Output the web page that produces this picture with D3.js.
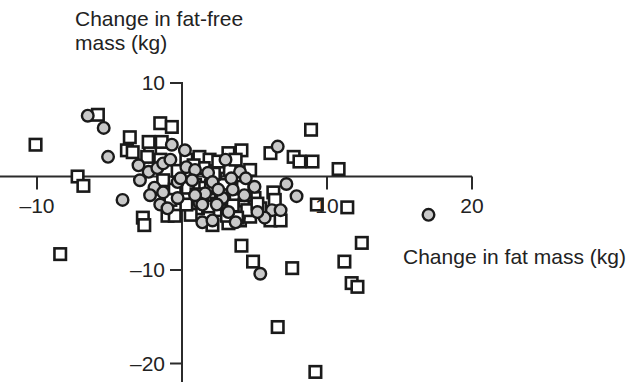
<!DOCTYPE html>
<html><head><meta charset="utf-8">
<script src="https://cdn.jsdelivr.net/npm/d3@7"></script>
<style>body{margin:0;background:#fff}svg{display:block}text{font-family:"Liberation Sans",Arial,sans-serif;fill:#222}</style>
</head><body>
<script>
// Squares: [change in fat mass, change in fat-free mass]
const squares = [
[-10.1,3.4],[-5.8,6.6],[-7.2,0.0],[-6.8,-1.0],[-8.4,-8.3],[-3.6,4.2],[-3.8,2.8],[-3.4,2.6],
[-2.2,2.8],[-2.3,3.7],[-1.5,5.7],[-0.7,5.3],[-1.4,3.7],[-2.4,2.1],[-1.5,1.8],[-2.7,-4.4],
[-2.6,-5.2],[-1.0,-4.2],[-0.5,-4.2],[-1.3,-0.4],[1.2,2.1],[3.2,2.5],[4.1,2.8],[2.8,1.0],
[6.1,2.5],[7.7,2.1],[8.1,1.6],[9.0,1.6],[8.9,5.0],[10.8,0.8],[9.3,-3.0],[11.4,-3.3],
[12.4,-7.1],[11.2,-9.1],[11.7,-11.4],[12.1,-11.8],[4.1,-7.4],[4.9,-9.1],[7.6,-9.8],[6.6,-16.1],
[9.2,-20.9],[6.3,-1.7],[6.4,-2.5],[6.1,-4.7],[6.8,-4.7],[4.0,-4.7],[4.7,-4.3],
[0.6,0.2],[0.9,-0.9],[1.6,-1.2],[2.3,-0.4],[3.0,-1.7],[3.7,-2.5],[4.3,-3.0],[3.9,-3.8],
[2.6,-3.6],[1.9,-2.5],[1.1,-3.4],[0.2,-2.3],[3.3,0.7],[4.0,-0.4],[4.6,-1.4],[5.0,-2.3],
[0.3,1.8],[1.9,1.8],[3.7,1.8],[-0.5,-1.4],[-0.8,-2.5],[4.7,0.7],[5.4,-3.4],[0.6,-4.1],
[3.2,-5.0],[2.1,-5.2],[1.5,0.9],[2.9,-0.9],[4.4,-2.0],[2.4,-2.9],[0.4,-1.2],
[1.0,-1.9],[1.8,-3.2],[2.7,-2.0],[3.5,-3.1],[4.5,-3.6],[2.0,-1.0],[0.3,-3.0],[1.4,-2.2],
[3.1,-4.2],[4.2,-1.1],[2.2,0.3],[0.8,1.2],[3.8,-4.4],[5.2,-2.9],[-0.3,0.6],[2.5,1.6]
];
// Circles: [change in fat mass, change in fat-free mass]
const circles = [
[-6.5,6.5],[-5.4,5.2],[-5.1,2.1],[-4.1,-2.5],[6.6,3.2],[17.0,-4.1],[5.4,-10.4],[7.2,-0.8],
[7.9,-2.1],[6.2,-3.6],[5.7,-4.4],[-0.7,3.4],[-3.0,1.2],[-2.3,0.5],[-1.7,0.9],[-1.3,1.4],
[-0.8,1.8],[-1.9,-1.2],[-1.3,-1.7],[-0.3,-0.6],[0.3,1.0],[0.9,0.7],[-0.3,-2.3],[-0.1,-0.2],
[1.2,-2.8],[1.4,-4.9],[2.1,-4.7],[1.8,0.4],[4.0,0.5],[3.4,-0.2],[2.1,-0.6],[3.5,-1.4],
[5.0,-1.1],[1.6,-1.8],[2.8,-2.3],[1.4,-3.0],[2.4,-3.0],[5.2,-3.8],[6.8,-3.6],[0.7,-0.4],
[-1.5,-3.0],[-2.2,-2.0],[-1.0,-3.4],[3.0,1.8],[4.3,-2.0],[0.2,2.8],[4.4,-0.2],[2.5,-1.4],
[3.2,-3.8],[0.9,-2.0],[-2.9,-0.4],[3.7,-4.9]
];
const xTicks = [-10, 10, 20];
const yTicks = [10, -10, -20];

const W = 640, H = 382;
const svg = d3.select("body").append("svg").attr("width", W).attr("height", H);
const x = d3.scaleLinear().domain([-10, 10]).range([37, 327]);
const y = d3.scaleLinear().domain([10, -10]).range([83, 270]);
const x0 = x(0), y0 = y(0);

// axes
const ax = svg.append("g");
ax.append("line").attr("x1", 0).attr("x2", x(20)).attr("y1", y0).attr("y2", y0)
  .attr("stroke", "#2b2b2b").attr("stroke-width", 2);
ax.append("line").attr("x1", x0).attr("x2", x0).attr("y1", y(10) - 1).attr("y2", H)
  .attr("stroke", "#2b2b2b").attr("stroke-width", 2);
xTicks.forEach(t => {
  ax.append("line").attr("x1", x(t)).attr("x2", x(t)).attr("y1", y0).attr("y2", y0 + 13)
    .attr("stroke", "#2b2b2b").attr("stroke-width", 2);
});
yTicks.forEach(t => {
  ax.append("line").attr("x1", x0 - 12).attr("x2", x0).attr("y1", y(t)).attr("y2", y(t))
    .attr("stroke", "#2b2b2b").attr("stroke-width", 2);
});

// points
const sz = 11.5;
svg.append("g").selectAll("rect").data(squares).join("rect")
  .attr("x", d => x(d[0]) - sz / 2).attr("y", d => y(d[1]) - sz / 2)
  .attr("width", sz).attr("height", sz)
  .attr("fill", "#fff").attr("stroke", "#1a1a1a").attr("stroke-width", 2.6);
svg.append("g").selectAll("circle").data(circles).join("circle")
  .attr("cx", d => x(d[0])).attr("cy", d => y(d[1])).attr("r", 5.8)
  .attr("fill", "#c9c9c9").attr("stroke", "#1a1a1a").attr("stroke-width", 2.4);

// tick labels
const fmt = v => (v < 0 ? "\u2013" + Math.abs(v) : String(v));
svg.append("g").selectAll("text").data(xTicks).join("text")
  .attr("x", d => x(d)).attr("y", 213).attr("text-anchor", "middle")
  .style("font-size", "21px").text(fmt);
svg.append("g").selectAll("text").data(yTicks).join("text")
  .attr("x", 165).attr("y", d => y(d)).attr("dy", "0.35em").attr("text-anchor", "end")
  .style("font-size", "21px").text(fmt);

// titles
svg.append("text").attr("x", 75).attr("y", 26).style("font-size", "21px").text("Change in fat-free");
svg.append("text").attr("x", 75).attr("y", 50).style("font-size", "21px").text("mass (kg)");
svg.append("text").attr("x", 403).attr("y", 264).style("font-size", "21px").text("Change in fat mass (kg)");
</script>
</body></html>
